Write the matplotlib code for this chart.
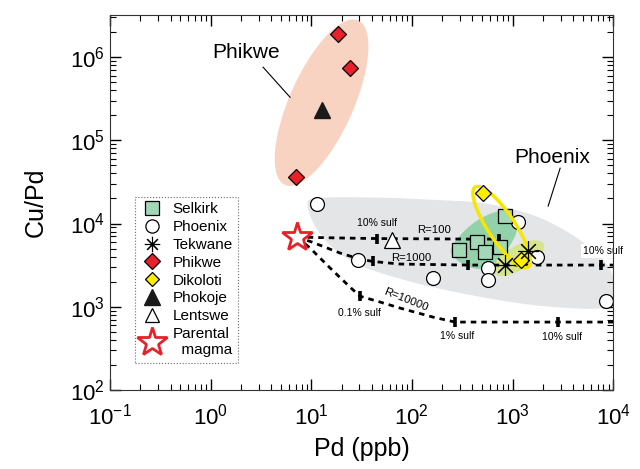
import numpy as np
import matplotlib
matplotlib.use("Agg")
import matplotlib.pyplot as plt
from matplotlib.patches import Ellipse, Polygon
from matplotlib.transforms import ScaledTranslation
from matplotlib.lines import Line2D

plt.rcParams['font.family'] = ['Liberation Sans', 'DejaVu Sans']
plt.rcParams['mathtext.fontset'] = 'custom'
plt.rcParams['mathtext.rm'] = 'Liberation Sans'
plt.rcParams['mathtext.it'] = 'Liberation Sans:italic'

# samples (Pd ppb, Cu/Pd)
selkirk_pd = [844, 294, 445, 534, 753]
selkirk_cupd = [1.23e4, 4.80e3, 5.98e3, 4.54e3, 5.21e3]
phoenix_pd = [11.4, 29.2, 162, 572, 572, 1137, 1758, 8511]
phoenix_cupd = [1.71e4, 3.64e3, 2.21e3, 2.92e3, 2.09e3, 1.04e4, 3.95e3, 1.17e3]
tekwane_pd = [844, 1429]
tekwane_cupd = [3.17e3, 4.67e3]
phikwe_pd = [18.6, 24.5, 7.06]
phikwe_cupd = [1.88e6, 7.48e5, 3.64e4]
dikoloti_pd = [510, 1217]
dikoloti_cupd = [2.32e4, 3.64e3]
phokoje_pd = [12.7]
phokoje_cupd = [2.34e5]
lentswe_pd = [63.5]
lentswe_cupd = [6.32e3]
parent_pd = [7.23]
parent_cupd = [6.87e3]

# model curves (R factors)
r100_pd = [7.23, 20, 45.1, 150, 400, 736]
r100_cupd = [6.87e3, 6.7e3, 6.6e3, 6.55e3, 6.5e3, 6.5e3]
r100_tick_pd = [45.1, 736]
r100_tick_cupd = [6.6e3, 6.5e3]
r1000_pd = [7.23, 10.2, 19.3, 30.5, 41.1, 76.4, 362, 7600, 10000]
r1000_cupd = [6.87e3, 5.98e3, 4.42e3, 3.74e3, 3.50e3, 3.26e3, 3.17e3, 3.17e3, 3.17e3]
r1000_tick_pd = [41.1, 362, 7600]
r1000_tick_cupd = [3.50e3, 3.17e3, 3.17e3]
r10000_pd = [7.23, 9.73, 15.4, 24.3, 30.5, 48.3, 76.4, 162.5, 269, 2839, 10000]
r10000_cupd = [6.87e3, 5.07e3, 2.92e3, 1.72e3, 1.34e3, 1.14e3, 964, 751, 655, 655, 655]
r10000_tick_pd = [30.5, 269, 2839]
r10000_tick_cupd = [1.34e3, 655, 655]

# fields
phoenix_field_pd = [9.29, 48.3, 190.6, 499, 1245, 2311, 5035, 9333, 10960, 9772,
                    2208, 703, 151.7, 56.6, 28.5, 15.4, 10.2, 9.08]
phoenix_field_cupd = [2.07e4, 2.07e4, 1.91e4, 1.81e4, 1.41e4, 1.07e4, 6.15e3, 3.17e3,
                      1.50e3, 912, 991, 1.20e3, 1.72e3, 2.40e3, 3.17e3, 5.21e3, 1.01e4, 1.66e4]
selkirk_field_pd = [234, 387, 671, 990, 1163, 925, 627, 387, 257]
selkirk_field_cupd = [5.07e3, 1.01e4, 1.41e4, 1.49e4, 8.81e3, 5.07e3, 2.84e3, 2.84e3, 3.85e3]


def smooth(xs, ys, n=3):
    # chaikin smoothing in log space for closed outline
    p = np.column_stack([np.log10(xs), np.log10(ys)])
    for _ in range(n):
        q = np.roll(p, -1, axis=0)
        p = np.vstack([np.column_stack([0.75*p + 0.25*q]), 0.25*p + 0.75*q])
        p = p.reshape(2, -1, 2).transpose(1, 0, 2).reshape(-1, 2)
    return 10**p


def ell(ax, fig, xc, yc, w, h, ang, **kw):
    tr = fig.dpi_scale_trans + ScaledTranslation(xc, yc, ax.transData)
    e = Ellipse((0, 0), w, h, angle=ang, transform=tr, **kw)
    ax.add_patch(e)


fig = plt.figure(figsize=(6.4, 4.69), dpi=100)
ax = fig.add_axes([0.172, 0.1684, 0.786, 0.7996])
ax.set_xscale('log')
ax.set_yscale('log')
ax.set_xlim(0.1, 1e4)
ax.set_ylim(1e2, 3.2e6)

ax.add_patch(Polygon(smooth(phoenix_field_pd, phoenix_field_cupd), closed=True,
                     fc='#e4e5e7', ec='none', zorder=1))
ell(ax, fig, 12.65, 2.83e5, 1.8, 0.64, 66, fc='#f9d3c1', ec='none', zorder=1)
ax.add_patch(Polygon(smooth(selkirk_field_pd, selkirk_field_cupd), closed=True,
                     fc='#92d1a9', ec='none', zorder=2))
ell(ax, fig, 1138, 3.85e3, 0.58, 0.24, 30, fc='#d6e48e', ec='none', zorder=2)

dash = (0, (2.0, 1.8))
for xs, ys, tx, ty in [(r100_pd, r100_cupd, r100_tick_pd, r100_tick_cupd),
                       (r1000_pd, r1000_cupd, r1000_tick_pd, r1000_tick_cupd),
                       (r10000_pd, r10000_cupd, r10000_tick_pd, r10000_tick_cupd)]:
    ax.plot(xs, ys, color='black', lw=2, ls=dash, zorder=3)
    ax.plot(tx, ty, ls='none', marker='|', ms=7, mew=2.6, color='black', zorder=3)

ax.plot(phoenix_pd, phoenix_cupd, 'o', ms=10, mfc='white', mec='black', mew=0.9, zorder=4)
ax.plot(selkirk_pd, selkirk_cupd, 's', ms=10, mfc='#a3d8b6', mec='black', mew=0.9, zorder=5)
ell(ax, fig, 780, 9.06e3, 0.96, 0.27, -56.5, fc='none', ec='#f7e600', lw=2.5, zorder=6)
ax.plot(dikoloti_pd, dikoloti_cupd, 'D', ms=8, mfc='#ffee00', mec='black', mew=0.9, zorder=7)
ax.plot(tekwane_pd, tekwane_cupd, ls='none', marker=(8, 2, 0), ms=15, color='black',
        mew=0.8, zorder=7)
ax.plot(phikwe_pd, phikwe_cupd, 'D', ms=8, mfc='#e8202a', mec='black', mew=0.9, zorder=7)
ax.plot(phokoje_pd, phokoje_cupd, '^', ms=12, color='#1a1a1a', zorder=7)
ax.plot(lentswe_pd, lentswe_cupd, '^', ms=11, mfc='white', mec='black', mew=0.9, zorder=7)
ax.plot(parent_pd, parent_cupd, '*', ms=22, mfc='white', mec='#e8202a', mew=2, zorder=8)

# labels
ax.text(2.27, 1.14e6, 'Phikwe', fontsize=15, ha='center', va='center')
ax.plot([3.32, 6.15], [7.55e5, 3.29e5], color='black', lw=0.8)
ax.text(2477, 6.27e4, 'Phoenix', fontsize=15, ha='center', va='center')
ax.plot([2974, 2259], [4.62e4, 1.62e4], color='black', lw=0.8)
sm = dict(fontsize=7.5, ha='center', va='center')
ax.text(45.1, 1.01e4, '10% sulf', **sm)
ax.text(166, 8.34e3, 'R=100', fontsize=8.2, ha='center', va='center')
ax.text(98, 3.85e3, 'R=1000', fontsize=8.2, ha='center', va='center')
ax.text(87.5, 1.2e3, 'R=10000', fontsize=8.2, ha='center', va='center', rotation=-21.6,
        zorder=3.5)
ax.text(29.9, 840, '0.1% sulf', **sm)
ax.text(281, 445, '1% sulf', **sm)
ax.text(3112, 433, '10% sulf', **sm)
ax.text(7962, 4.67e3, '10% sulf', clip_on=False, zorder=9,
        bbox=dict(fc='white', ec='none', pad=1.5), **sm)

ax.set_xlabel('Pd (ppb)', fontsize=18, labelpad=5)
ax.set_ylabel('Cu/Pd', fontsize=18, labelpad=16)
ax.tick_params(which='both', direction='in', top=True, right=True, labelsize=16)
ax.tick_params(which='major', length=8, width=1)
ax.tick_params(which='minor', length=4.5, width=0.8)
ax.tick_params(axis='x', pad=10)
ax.set_yticks([1e2, 1e3, 1e4, 1e5, 1e6])
for s in ax.spines.values():
    s.set_color('#333333')
    s.set_zorder(10)

handles = [
    Line2D([], [], ls='none', marker='s', ms=10, mfc='#a3d8b6', mec='black', mew=0.9),
    Line2D([], [], ls='none', marker='o', ms=9.5, mfc='white', mec='black', mew=0.9),
    Line2D([], [], ls='none', marker=(8, 2, 0), ms=11, color='black', mew=0.8),
    Line2D([], [], ls='none', marker='D', ms=8, mfc='#e8202a', mec='black', mew=0.9),
    Line2D([], [], ls='none', marker='D', ms=7, mfc='#ffee00', mec='black', mew=0.9),
    Line2D([], [], ls='none', marker='^', ms=11, color='#1a1a1a'),
    Line2D([], [], ls='none', marker='^', ms=10, mfc='white', mec='black', mew=0.9),
    Line2D([], [], ls='none', marker='*', ms=22, mfc='white', mec='#e8202a', mew=2),
]
names = ['Selkirk', 'Phoenix', 'Tekwane', 'Phikwe', 'Dikoloti', 'Phokoje', 'Lentswe',
         'Parental\n  magma']
leg = ax.legend(handles, names, loc='upper left', bbox_to_anchor=(0.05, 0.515),
                fontsize=11, frameon=True, fancybox=False, handlelength=1.5,
                handletextpad=0.6, labelspacing=0.25, borderpad=0.35,
                borderaxespad=0)
leg.get_frame().set_linestyle(':')
leg.get_frame().set_edgecolor('#444444')
leg.get_frame().set_linewidth(0.8)
leg.set_zorder(9)

fig.savefig('out.png', dpi=100)
